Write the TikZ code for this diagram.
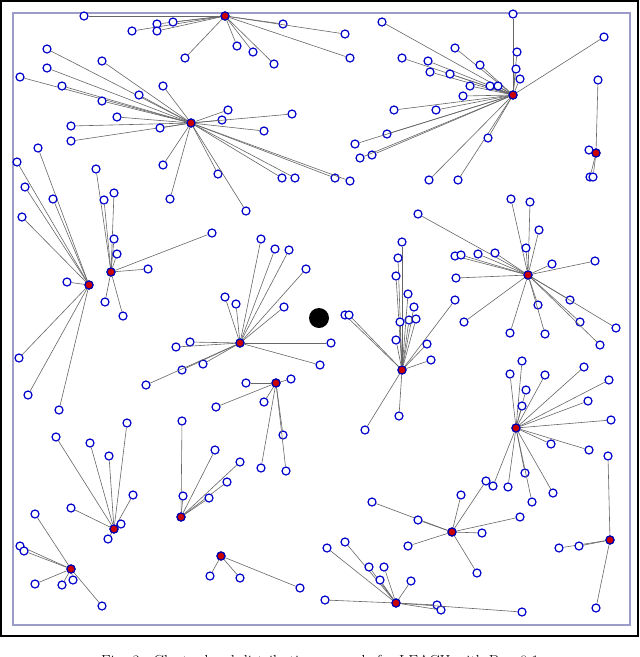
\documentclass[tikz,border=0pt]{standalone}
\usepackage{tikz}
\tikzset{
  member/.style={circle, draw=blue!80!black, line width=1.2pt, fill=white, inner sep=0pt, minimum size=8pt},
  head/.style={circle, draw=blue!70!black, line width=1.2pt, fill=red!80!black, inner sep=0pt, minimum size=8pt},
  link/.style={gray!80!black, line width=0.6pt},
}
% draw one cluster: #1 name, #2 head position, #3 member list
\newcommand{\cluster}[3]{%
  \node[head] (#1) at (#2) {};
  \foreach \p [count=\i] in {#3} {
    \node[member] (#1-\i) at (\p) {};
    \draw[link] (#1) -- (#1-\i);
  }
  \node[head] at (#1) {};
}
\begin{document}
\begin{tikzpicture}[x=1pt,y=-1pt]
\useasboundingbox (0,0) rectangle (640,657);
\clip (0,0) rectangle (640,657);
\draw[line width=1.5pt] (1,1) rectangle (638,636);
\draw[blue!30!gray!60, line width=1.2pt] (13,13) rectangle (630,625);

\cluster{ca}{225,16}{{84,16},{132,31},{157,24},{157,31},{173,22},{185,58},{237,46},{253,52},{274,64},{283,24},{345,34},{350,58}}
\cluster{cb}{191,123}{{47,49},{47,68},{20,77},{62,86},{102,61},{163,86},{139,95},{102,101},{117,117},{71,126},{71,141},{160,128},{163,165},{170,199},{218,174},{246,211},{228,110},{222,120},{264,131},{292,114},{282,178},{295,178},{335,178},{350,181}}
\cluster{cc}{89,285}{{38,148},{17,162},{25,187},{22,217},{53,199},{67,282},{19,358},{28,395},{59,410}}
\cluster{cd}{111,272}{{96,169},{114,193},{104,200},{114,239},{117,254},{105,302},{123,316},{148,269},{212,233}}
\cluster{ce}{513,95}{{513,14},{382,22},{402,58},{428,61},{430,72},{455,48},{450,74},{480,65},{470,86},{490,86},{498,86},{517,52},{520,79},{516,69},{604,37},{463,96},{436,110},{394,110},{387,134},{355,144},{372,155},{360,158},{429,180},{458,180},{488,138}}
\cluster{cf}{596,153}{{598,80},{589,150},{590,177},{593,177}}
\cluster{cg}{528,275}{{418,214},{511,199},{530,202},{539,230},{526,248},{495,253},{455,256},{461,255},{478,254},{456,278},{552,264},{595,261},{570,300},{538,305},{580,322},{616,328},{545,334},{510,333},{464,322},{600,345}}
\cluster{ch}{240,343}{{225,297},{236,304},{261,239},{275,249},{289,250},{306,269},{284,307},{190,342},{176,347},{182,370},{203,364},{146,385},{331,343},{320,365}}
\cluster{ci}{402,370}{{345,315},{349,315},{402,242},{398,258},{396,276},{409,320},{400,322},{416,319},{408,294},{414,307},{396,340},{455,300},{427,344},{431,360},{399,416},{365,430}}
\cluster{cj}{276,383}{{246,383},{291,379},{264,402},{216,407},{283,435},{286,471},{261,468}}
\cluster{ck}{516,428}{{510,374},{522,361},{526,390},{522,406},{545,375},{584,367},{609,380},{588,401},{611,420},{589,450},{551,444},{525,473},{553,493},{532,502},{508,487},{493,486}}
\cluster{cl}{181,517}{{182,421},{215,450},{240,462},{227,482},{209,498},{183,496}}
\cluster{cm}{114,529}{{56,437},{90,443},{127,423},{109,456},{133,495},{121,524},{108,539},{71,508}}
\cluster{cn}{71,569}{{35,514},{20,546},{24,551},{35,584},{62,585},{73,580},{102,606}}
\cluster{co}{221,556}{{210,576},{240,578},{300,588}}
\cluster{cp}{452,532}{{372,502},{418,520},{461,495},{486,481},{482,533},{520,517},{477,573},{408,546}}
\cluster{cq}{610,540}{{608,456},{559,548},{579,546},{596,608}}
\cluster{cr}{396,603}{{327,548},{345,542},{369,567},{384,567},{380,580},{411,581},{325,600},{437,605},{441,610},{522,612}}

\node[circle, fill=black, minimum size=20pt, inner sep=0pt] (sink) at (319,318) {};

\node[font=\fontsize{16}{18}\selectfont] (caption) at (320,662) {Fig. 3.\ \ Cluster head distribution example for LEACH with P = 0.1};
\end{tikzpicture}
\end{document}
